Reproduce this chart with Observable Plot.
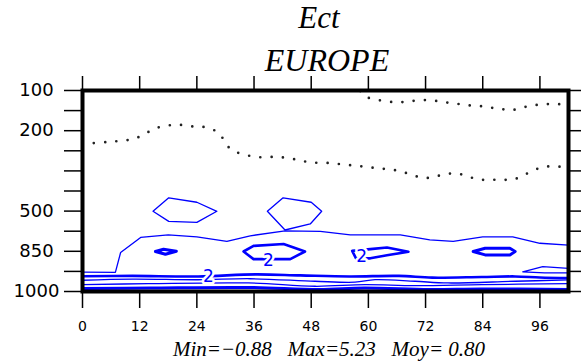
<!DOCTYPE html>
<html><head><meta charset="utf-8">
<script src="https://cdn.jsdelivr.net/npm/d3@7"></script>
<script src="https://cdn.jsdelivr.net/npm/@observablehq/plot@0.6"></script>
<style>
body{margin:0;background:#fff;}
#wrap{position:relative;width:581px;height:361px;overflow:hidden;background:#fff}
.t{position:absolute;text-align:center;font-family:"Liberation Serif",serif;font-style:italic;color:#000;white-space:pre}
#chart{position:absolute;left:0;top:74px}
</style></head><body>
<div id="wrap">
<div class="t" id="title" style="left:219px;width:200px;top:0px;font-size:31px;line-height:36px"></div>
<div class="t" id="sub" style="left:227px;width:200px;top:42px;font-size:32px;line-height:36px"></div>
<div id="chart"></div>
<div class="t" id="cap" style="left:129px;width:400px;top:338px;font-size:21px;line-height:23px"></div>
</div>
<script>
// ---- texts ----
const titleText = "Ect";
const subtitleText = "EUROPE";
const captionText = "Min=\u22120.88   Max=5.23   Moy= 0.80";

// ---- axes ----
const levels = [100, 150, 200, 250, 300, 400, 500, 700, 850, 925, 1000]; // hPa, evenly spaced model levels
const labeledLevels = [100, 200, 500, 850, 1000];
const xTicks = [0, 12, 24, 36, 48, 60, 72, 84, 96];
const xDomain = [0, 102];

// ---- contour paths: [forecast hour, level index] ----
const dotUpper = [[58.3,0.03],[59.2,0.28],[61.4,0.44],[63.8,0.54],[66.2,0.59],[68.5,0.54],[70.9,0.48],[73.4,0.49],[75.7,0.58],[78.1,0.64],[80.4,0.73],[82.9,0.76],[85.3,0.84],[87.6,0.91],[90.0,0.98],[92.4,0.84],[94.7,0.74],[97.0,0.68],[99.4,0.68],[102,0.68]];
const dotLower = [[0,2.65],[3.9,2.59],[6.3,2.54],[8.7,2.49],[11.0,2.39],[13.1,2.16],[15.3,1.88],[17.6,1.76],[19.8,1.69],[22.3,1.78],[24.7,1.79],[27.0,1.91],[28.9,2.18],[30.0,2.64],[31.7,3.01],[34.0,3.18],[36.3,3.31],[38.8,3.31],[41.1,3.31],[43.5,3.38],[45.8,3.48],[47.9,3.59],[50.4,3.59],[52.7,3.63],[55.1,3.69],[57.4,3.74],[59.9,3.81],[62.3,3.88],[64.7,3.93],[67.0,4.04],[69.3,4.21],[71.7,4.36],[74.0,4.28],[76.3,4.16],[78.7,4.13],[81.0,4.29],[83.4,4.43],[85.7,4.44],[88.0,4.44],[90.4,4.43],[92.6,4.21],[94.8,3.96],[97.0,3.79],[99.4,3.79],[102,3.79]];

const contour1 = [[0,9.04],[6.9,9.05],[8.0,8.06],[12.2,7.31],[18.0,7.18],[24.0,7.28],[30.3,7.51],[35.2,7.23],[42.5,6.98],[49.9,7.01],[56.2,7.18],[66.7,7.18],[72.9,7.43],[77.8,7.51],[84.0,7.28],[90.3,7.28],[96.0,7.6],[102,7.69]];
const contour2 = [[0,9.24],[10.5,9.225],[24.3,9.25],[36.3,9.15],[45.7,9.2],[56.0,9.25],[66.4,9.225],[73.4,9.31],[83.8,9.275],[90.8,9.25],[96.0,9.3],[102,9.325]];
const contour3 = [[0,9.44],[10.5,9.385],[24.3,9.415],[35.2,9.365],[48.8,9.49],[57.2,9.535],[61.4,9.41],[69.8,9.49],[76.7,9.575],[90.8,9.49],[102,9.425]];
const contour4 = [[0,9.66],[13.8,9.61],[34.8,9.575],[48.8,9.74],[59.3,9.66],[69.8,9.71],[83.8,9.66],[102,9.61]];
const contour5 = [[0,9.85],[14.1,9.825],[35.0,9.8],[49.7,9.9],[59.1,9.825],[72.7,9.9],[83.6,9.875],[102,9.9]];
const wedge = [[102,8.85],[96.6,8.76],[92.4,9.025],[97.0,9.075],[102,9.075]];

const blobA = [[14.8,6.01],[18.1,5.34],[24.0,5.56],[28.2,6.01],[24.0,6.56],[18.1,6.51]];
const blobB = [[38.8,6.01],[42.1,5.34],[48.0,5.56],[50.2,6.01],[47.8,6.64],[42.5,6.94]];
const core1 = [[15.3,8.01],[17.0,7.9],[19.7,8.0],[17.4,8.15]];
const core2 = [[33.8,8.01],[35.9,7.73],[42.2,7.64],[46.7,8.01],[43.6,8.39],[35.9,8.39]];
const core3 = [[56.6,7.98],[60.4,7.89],[63.9,7.81],[68.4,8.02],[63.9,8.2],[60.4,8.35],[57.4,8.35]];
const core4 = [[82.0,8.01],[84.5,7.85],[89.7,7.85],[90.8,8.01],[89.7,8.18],[84.5,8.18]];

const contourLabels = [[26.4,9.275,"2"],[39.0,8.46,"2"],[58.6,8.275,"2"]];

document.getElementById("title").textContent = titleText;
document.getElementById("sub").textContent = subtitleText;
document.getElementById("cap").textContent = captionText;

const levelIdx = d3.range(levels.length);
const labeledIdx = labeledLevels.map(p => levels.indexOf(p));
const X = d => d[0], Y = d => d[1];
const BLUE = "#0000ff";
const thin = (data, extra = {}) => Plot.line(data, {x: X, y: Y, stroke: BLUE, strokeWidth: 1.3, ...extra});
const thick = (data, extra = {}) => Plot.line(data, {x: X, y: Y, stroke: BLUE, strokeWidth: 2.6, ...extra});
const dotted = data => Plot.line(data, {x: X, y: Y, stroke: "#222", strokeWidth: 2.7, strokeDasharray: "0,11.3", strokeLinecap: "round", curve: "catmull-rom"});

const chart = Plot.plot({
  width: 581, height: 264,
  marginLeft: 82, marginRight: 13, marginTop: 16, marginBottom: 47,
  x: {domain: xDomain},
  y: {domain: [0, 10], reverse: true},
  style: {fontFamily: "DejaVu Sans", background: "white", color: "black"},
  marks: [
    dotted(dotUpper),
    dotted(dotLower),
    thin(contour1),
    thin(blobA, {curve: "linear-closed"}),
    thin(blobB, {curve: "linear-closed"}),
    thick(core1, {curve: "linear-closed", strokeWidth: 3}),
    thick(core2, {curve: "linear-closed"}),
    thick(core3, {curve: "linear-closed"}),
    thick(core4, {curve: "linear-closed", strokeWidth: 3}),
    thin(wedge),
    thin(contour3, {curve: "catmull-rom"}),
    thin(contour4, {curve: "catmull-rom"}),
    thick(contour5, {curve: "catmull-rom", strokeWidth: 3}),
    thick(contour2, {curve: "catmull-rom"}),
    Plot.text(contourLabels, {x: X, y: Y, text: d => d[2], fill: BLUE, stroke: "white", strokeWidth: 5, fontSize: 17, fontFamily: "DejaVu Sans"}),
    Plot.frame({stroke: "black", strokeWidth: 4}),
    Plot.axisX(xTicks, {anchor: "bottom", tickSize: 17, tickPadding: 13, fontSize: 14, strokeWidth: 1.5, label: null}),
    Plot.axisX(xTicks, {anchor: "top", tickSize: 15, fill: "none", strokeWidth: 1.5, label: null}),
    Plot.axisY(levelIdx, {anchor: "left", tickSize: 18, fill: "none", strokeWidth: 1.5, label: null}),
    Plot.axisY(levelIdx, {anchor: "right", tickSize: 17, fill: "none", strokeWidth: 1.5, label: null}),
    Plot.axisY(labeledIdx, {anchor: "left", tickSize: 0, tickPadding: 46, textAnchor: "middle", tickFormat: i => String(levels[i]), fontSize: 18, label: null})
  ]
});
document.getElementById("chart").appendChild(chart);
</script>
</body></html>
